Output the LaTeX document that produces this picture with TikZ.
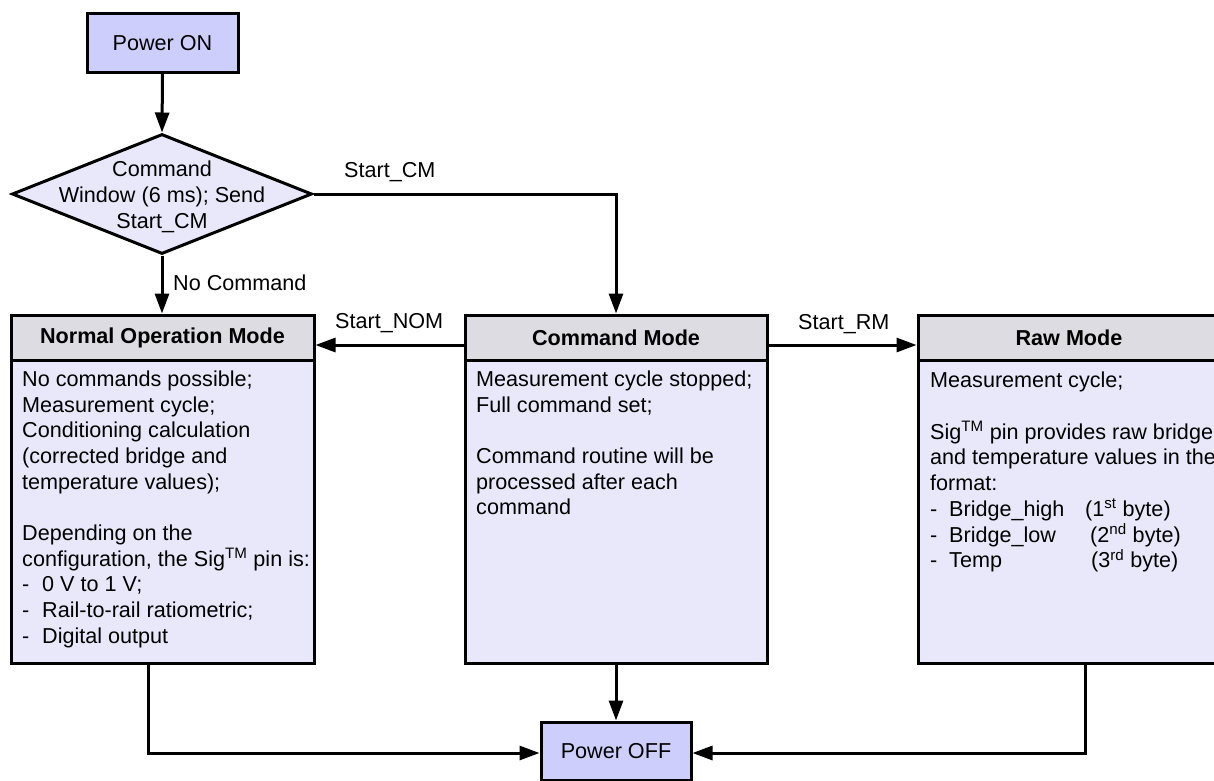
\documentclass[tikz,border=0pt]{standalone}
\usepackage{fontspec}
\setmainfont{Liberation Sans}
\usetikzlibrary{shapes.geometric,arrows.meta}
\definecolor{powerfill}{RGB}{206,206,252}
\definecolor{bodyfill}{RGB}{232,232,250}
\definecolor{headfill}{RGB}{220,220,226}
\tikzset{
  base/.style={font=\fontsize{21.6}{25.7}\selectfont},
  powerbox/.style={base,draw,line width=3pt,fill=powerfill,minimum width=151pt,minimum height=59pt,inner sep=0pt},
  headbox/.style={base,draw,line width=3pt,fill=headfill,minimum width=303pt,minimum height=45pt,inner sep=0pt,font=\fontsize{21.6}{25.7}\selectfont\bfseries},
  bodybox/.style={draw,line width=3pt,fill=bodyfill,minimum width=303pt,minimum height=303pt,inner sep=0pt},
  bodytext/.style={base,anchor=north west,align=left,inner sep=0pt},
  lbl/.style={base,anchor=base west,inner sep=0pt},
  arr/.style={line width=3pt,-{Triangle[length=20pt,width=14pt]}},
  conn/.style={line width=3pt}
}
\begin{document}
\begin{tikzpicture}[x=1pt,y=-1pt]
\useasboundingbox (0,0) rectangle (1214,780);
% Power ON
\node[powerbox] (pon) at (162.5,43) {Power ON};
% decision
\node[diamond,draw,line width=3pt,fill=bodyfill,minimum width=300pt,minimum height=120pt,inner sep=0pt] (dia) at (162,194) {};
\node[base,align=center,inner sep=0pt] (diat) at (162,197) {Command\\Window (6 ms); Send\\Start\_CM};
% Normal operation mode
\node[bodybox] (nomb) at (162.5,511.5) {};
\node[headbox] (nomh) at (162.5,337.5) {Normal Operation Mode};
\node[bodytext] (nomt) at (22,370.5) {No commands possible;\\Measurement cycle;\\Conditioning calculation\\(corrected bridge and\\temperature values);\\[25.7pt]Depending on the\\configuration, the Sig\textsuperscript{TM} pin is:\\\makebox[20pt][l]{-}0 V to 1 V;\\\makebox[20pt][l]{-}Rail-to-rail ratiometric;\\\makebox[20pt][l]{-}Digital output};
% Command mode
\node[bodybox,minimum width=302pt] (cmb) at (616,511.5) {};
\node[headbox,minimum width=302pt] (cmh) at (616,337.5) {Command Mode};
\node[bodytext] (cmt) at (476,370.5) {Measurement cycle stopped;\\Full command set;\\[25.7pt]Command routine will be\\processed after each\\command};
% Raw mode
\node[bodybox,minimum width=302pt] (rmb) at (1069,511.5) {};
\node[headbox,minimum width=302pt] (rmh) at (1069,337.5) {Raw Mode};
\node[bodytext] (rmt) at (930,372) {Measurement cycle;\\[25.7pt]Sig\textsuperscript{TM} pin provides raw bridge\\and temperature values in the\\format:\\\makebox[19pt][l]{-}\makebox[136pt][l]{Bridge\_high}(1\textsuperscript{st} byte)\\\makebox[19pt][l]{-}\makebox[141pt][l]{Bridge\_low}(2\textsuperscript{nd} byte)\\\makebox[19pt][l]{-}\makebox[142pt][l]{Temp}(3\textsuperscript{rd} byte)};
% Power OFF
\node[powerbox,minimum width=150pt,minimum height=58pt] (poff) at (616,751) {Power OFF};
% labels
\node[lbl] (lnc) at (173,290) {No Command};
\node[lbl] (lcm) at (344,177) {Start\_CM};
\node[lbl] (lnom) at (335,328) {Start\_NOM};
\node[lbl] (lrm) at (798,329) {Start\_RM};
% connectors
\draw[arr] (pon.south) -- (dia.north);
\draw[arr] (dia.south) -- (dia.south |- nomh.north);
\draw[arr] (dia.east) -| (cmh.north);
\draw[arr] ([yshift=-7.5pt]cmh.west) -- ([yshift=-7.5pt]nomh.east);
\draw[arr] ([yshift=-7.5pt]cmh.east) -- ([yshift=-7.5pt]rmh.west);
\draw[arr] (cmb.south) -- (poff.north);
\coordinate (nomout) at (148,663);
\coordinate (rmout) at (1085,663);
\draw[arr] (nomout) |- ([yshift=-2pt]poff.west);
\draw[arr] (rmout) |- ([yshift=-2pt]poff.east);
\end{tikzpicture}
\end{document}
